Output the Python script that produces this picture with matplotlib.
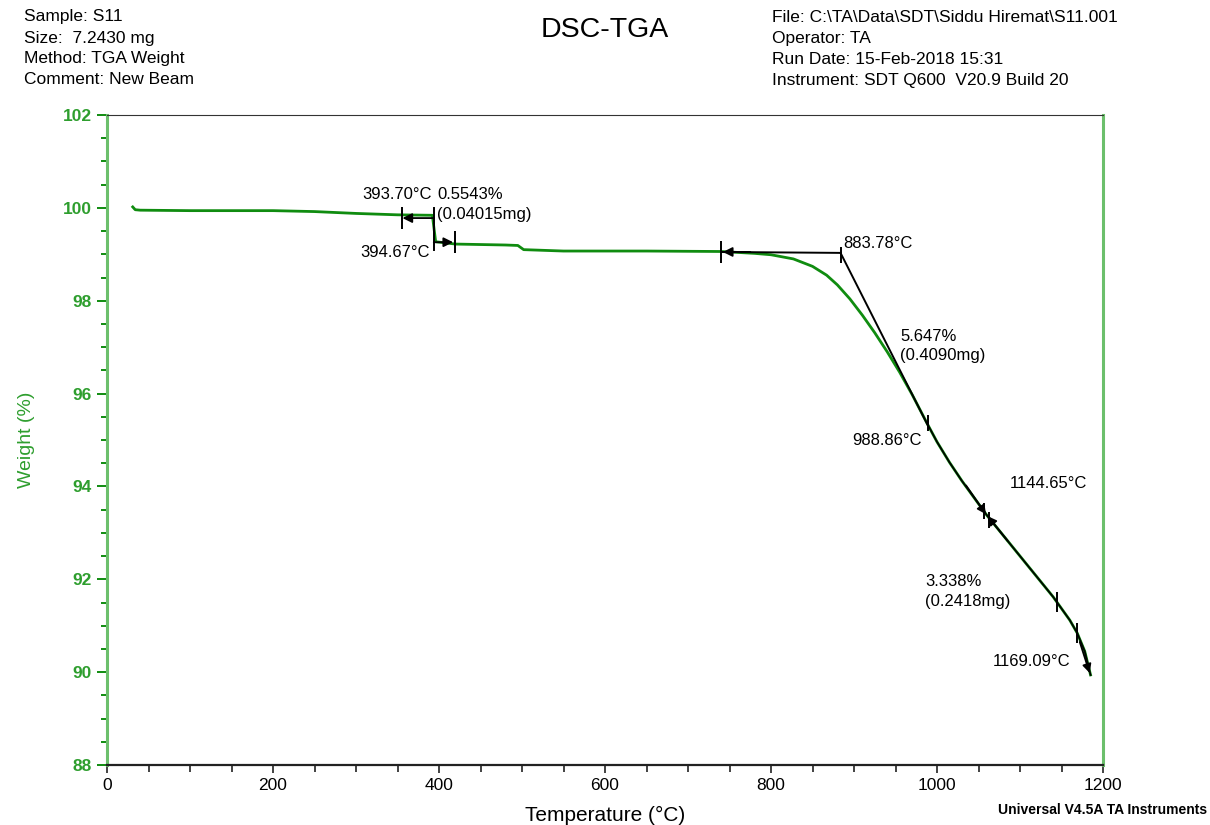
import matplotlib
matplotlib.use("Agg")
import matplotlib.pyplot as plt
from matplotlib.ticker import MultipleLocator

# TGA weight curve (temperature in °C, weight in %)
temperature = [31, 34, 40, 100, 200, 250, 300, 350, 392, 396, 420, 480, 495, 502,
               550, 650, 740, 780, 800, 827, 850, 867, 880, 895, 910, 925, 940,
               955, 970, 988, 1000, 1015, 1030, 1060, 1100, 1140, 1160, 1169,
               1178, 1185]
weight = [100.02, 99.96, 99.95, 99.94, 99.94, 99.92, 99.88, 99.85, 99.84, 99.27,
          99.22, 99.20, 99.19, 99.10, 99.07, 99.07, 99.06, 99.02, 98.99, 98.90,
          98.74, 98.55, 98.34, 98.04, 97.69, 97.31, 96.90, 96.46, 95.98, 95.36,
          94.96, 94.52, 94.12, 93.38, 92.50, 91.62, 91.12, 90.84, 90.45, 89.94]

# step-change analysis results
step1_temp = [393.70, 394.67]
step1_levels = [99.78, 99.26]
onset_temp = 883.78
onset_level = 99.03
tangent_end = (988.86, 95.32)
step2_mid = (1060.0, 93.38)
marker_temps = [1144.65, 1169.09]
marker_levels = [91.52, 90.84]

header_left = ["Sample: S11", "Size:  7.2430 mg", "Method: TGA Weight",
               "Comment: New Beam"]
header_right = ["File: C:\\TA\\Data\\SDT\\Siddu Hiremat\\S11.001", "Operator: TA",
                "Run Date: 15-Feb-2018 15:31", "Instrument: SDT Q600  V20.9 Build 20"]

GREEN = "#108c10"
AX_GREEN = "#6cbf6c"
LBL_GREEN = "#2e9e2e"
FONT = ["Liberation Sans", "DejaVu Sans"]

plt.rcParams["font.family"] = FONT

W, H = 1210, 825
fig = plt.figure(figsize=(W / 100, H / 100), dpi=100)
ax = fig.add_axes([107 / W, 1 - 765 / H, (1103 - 107) / W, (765 - 115) / H])

ax.set_xlim(0, 1200)
ax.set_ylim(88, 102)

ax.plot(temperature, weight, color=GREEN, lw=2.0, zorder=3)

# axis styling
ax.spines["left"].set_color(AX_GREEN)
ax.spines["right"].set_color(AX_GREEN)
ax.spines["left"].set_linewidth(2.2)
ax.spines["right"].set_linewidth(2.2)
ax.spines["top"].set_color("#333333")
ax.spines["bottom"].set_color("#222222")
ax.spines["bottom"].set_linewidth(1.6)

ax.xaxis.set_major_locator(MultipleLocator(200))
ax.xaxis.set_minor_locator(MultipleLocator(50))
ax.yaxis.set_major_locator(MultipleLocator(2))
ax.yaxis.set_minor_locator(MultipleLocator(0.5))
ax.tick_params(axis="y", which="major", direction="out", length=7, width=1.4,
               color=GREEN, labelcolor=LBL_GREEN, labelsize=12.5, pad=4)
ax.tick_params(axis="y", which="minor", direction="out", length=4, width=1.4,
               color=GREEN)
ax.tick_params(axis="x", which="both", direction="out", length=6, width=1.2,
               color="#222222", labelsize=12.5, pad=3)
ax.tick_params(axis="x", which="minor", length=5)
for lab in ax.get_yticklabels():
    lab.set_fontweight("bold")

fig.text(605 / W, 1 - 815 / H, "Temperature (°C)", fontsize=15,
         ha="center", va="center")
ax.set_ylabel("Weight (%)", fontsize=14, color=LBL_GREEN, labelpad=20)


def arrow(x0, y0, x1, y1, scale=14):
    ax.annotate("", xy=(x1, y1), xytext=(x0, y0),
                arrowprops=dict(arrowstyle="-|>", color="k", lw=1.3,
                                mutation_scale=scale, shrinkA=0, shrinkB=0),
                zorder=5)


def vtick(x, y, size=16):
    ax.plot([x], [y], marker="|", color="k", markersize=size,
            markeredgewidth=1.4, zorder=5)


kw = dict(color="k", lw=1.4, zorder=4)

# first step: 393.70 °C / 394.67 °C
ax.plot([step1_temp[0], step1_temp[0]], [100.0, 99.1], **kw)
arrow(step1_temp[0], step1_levels[0], 356, step1_levels[0])
vtick(355, step1_levels[0])
arrow(step1_temp[0], step1_levels[1], 417, step1_levels[1])
vtick(419, step1_levels[1])

# onset construction at 883.78 °C
ax.plot([740, onset_temp], [onset_level + 0.02, onset_level], **kw)
arrow(775, onset_level + 0.02, 742, onset_level + 0.02)
vtick(740, onset_level + 0.02)
vtick(onset_temp, onset_level - 0.05, size=12)
ax.plot([onset_temp, tangent_end[0]], [onset_level, tangent_end[1]], **kw)

# black trace over the second loss region
seg_t = [t for t in temperature if t >= 988]
seg_w = [w for t, w in zip(temperature, weight) if t >= 988]
ax.plot(seg_t, seg_w, color="k", lw=1.2, zorder=4)
vtick(tangent_end[0], tangent_end[1] + 0.05, size=12)

# crossing arrows at the step midpoint
arrow(1035, 94.02, step2_mid[0] - 1, step2_mid[1] + 0.02, scale=13)
arrow(1085, 92.83, step2_mid[0] + 1, step2_mid[1] - 0.02, scale=13)
vtick(step2_mid[0] - 3, step2_mid[1] + 0.10, size=12)
vtick(step2_mid[0] + 3, step2_mid[1] - 0.10, size=12)

for t, w in zip(marker_temps, marker_levels):
    vtick(t, w, size=14)
arrow(1172, 90.65, 1184, 89.98, scale=13)

# annotation text
ann = dict(fontsize=12, va="center", ha="left", zorder=6)
ax.text(308, 100.28, "393.70°C", **ann)
ax.text(397.6, 100.28, "0.5543%", **ann)
ax.text(397.6, 99.85, "(0.04015mg)", **ann)
ax.text(305, 99.03, "394.67°C", **ann)
ax.text(886.7, 99.24, "883.78°C", **ann)
ax.text(955.4, 97.22, "5.647%", **ann)
ax.text(955.4, 96.81, "(0.4090mg)", **ann)
ax.text(897.6, 95.00, "988.86°C", **ann)
ax.text(1088, 94.07, "1144.65°C", **ann)
ax.text(985.5, 91.96, "3.338%", **ann)
ax.text(985.5, 91.53, "(0.2418mg)", **ann)
ax.text(1067.5, 90.24, "1169.09°C", **ann)

# header block
for i, s in enumerate(header_left):
    fig.text(24 / W, 1 - (17 + 21 * i) / H, s, fontsize=12.5, va="center", ha="left")
for i, s in enumerate(header_right):
    fig.text(772 / W, 1 - (17 + 21 * i) / H, s, fontsize=12.5, va="center", ha="left")
fig.text(605 / W, 1 - 30 / H, "DSC-TGA", fontsize=20.5, va="center", ha="center")

fig.text(1207 / W, 1 - 810 / H, "Universal V4.5A TA Instruments", fontsize=10,
         fontweight="bold", va="center", ha="right",
         family=["Liberation Sans Narrow", "Liberation Sans", "DejaVu Sans"])

fig.savefig("out.png", dpi=100, facecolor="white")
